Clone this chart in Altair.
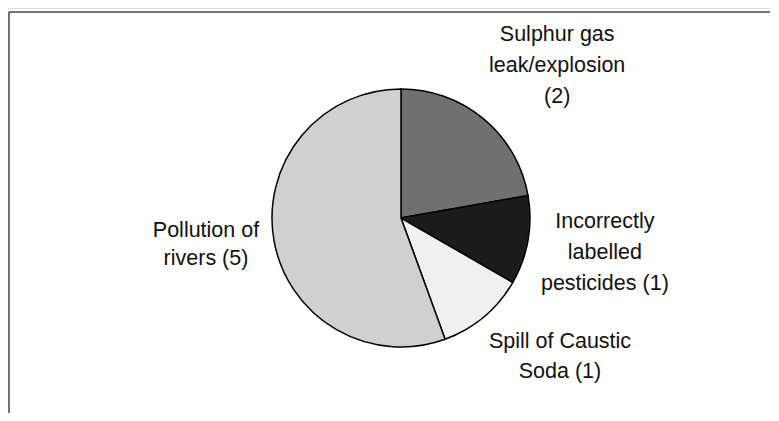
import math
import altair as alt
import pandas as pd

# ---- data ----
categories = ["Sulphur gas leak/explosion", "Incorrectly labelled pesticides",
              "Spill of Caustic Soda", "Pollution of rivers"]
counts = [2, 1, 1, 5]
label_lines = ["Sulphur gas\nleak/explosion\n(2)",
               "Incorrectly\nlabelled\npesticides (1)",
               "Spill of Caustic\nSoda (1)",
               "Pollution of\nrivers (5)"]
fills = ["#707070", "#1c1c1c", "#f0f0f0", "#d0d0d0"]

df = pd.DataFrame({"cat": categories, "count": counts,
                   "label": label_lines, "idx": list(range(len(categories)))})

W, H = 762, 405
CX, CY = 393, 210
R = 129
FONT = "Liberation Sans"

base = (
    alt.Chart(df)
    .transform_window(cum="sum(count)", sort=[alt.SortField("idx")], frame=[None, 0])
    .transform_joinaggregate(total="sum(count)")
    .transform_calculate(
        start="2*PI*(datum.cum - datum.count)/datum.total",
        end="2*PI*datum.cum/datum.total",
    )
    .transform_calculate(mid="(datum.start + datum.end)/2")
)

pie = base.mark_arc(outerRadius=R, stroke="black", strokeWidth=1.5).encode(
    theta=alt.Theta("start:Q", scale=None),
    theta2="end:Q",
    color=alt.Color("cat:N", scale=alt.Scale(domain=categories, range=fills), legend=None),
    x=alt.value(CX),
    y=alt.value(CY),
)

# label placement tweaks (radius, dx, dy, lineHeight) per category
tweaks = {
    categories[0]: (215, 18, -18, 31),
    categories[1]: (207, 0, -32, 31),
    categories[2]: (210, 24, -37, 30),
    categories[3]: (197, -1, -21, 28),
}

layers = [pie]
for c in categories:
    r, dx, dy, lh = tweaks[c]
    layers.append(
        base.transform_filter(alt.datum.cat == c)
        .mark_text(radius=r, dx=dx, dy=dy, font=FONT, fontSize=21.5, lineBreak="\n",
                   lineHeight=lh, align="center", baseline="middle", color="#111111")
        .encode(theta=alt.Theta("mid:Q", scale=None), text="label:N",
                x=alt.value(CX), y=alt.value(CY))
    )

frame_data = alt.Data(values=[{"a": 1}])
top_rule = alt.Chart(frame_data).mark_rule(color="#4a4a4a", strokeWidth=1.5).encode(
    x=alt.value(1), x2=alt.value(W + 10), y=alt.value(4))
left_rule = alt.Chart(frame_data).mark_rule(color="#4a4a4a", strokeWidth=1.5).encode(
    x=alt.value(1), y=alt.value(4), y2=alt.value(H + 10))
layers += [top_rule, left_rule]

chart = (
    alt.layer(*layers)
    .properties(width=W, height=H, padding=0, autosize=alt.AutoSizeParams(type="none"))
    .configure_view(stroke=None)
    .configure(background="white")
)

chart.save("out.html", embed_options={"renderer": "svg", "actions": False})
